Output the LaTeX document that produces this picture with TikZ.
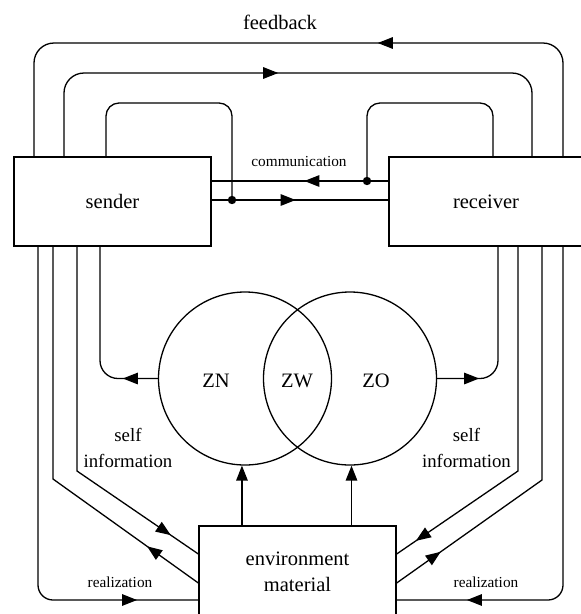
\documentclass[tikz,border=0pt]{standalone}
\usepackage{fontspec}
\setmainfont{Liberation Serif}
\newfontfamily\tnr{Liberation Serif}
\usetikzlibrary{arrows.meta,decorations.markings,calc}
\tikzset{
  big/.style={font=\tnr\fontsize{20.5}{26}\selectfont},
  mid/.style={font=\tnr\fontsize{18.8}{26}\selectfont},
  small/.style={font=\tnr\fontsize{15.3}{19}\selectfont},
  box/.style={draw, rectangle, inner sep=0pt, big},
  zone/.style={draw, circle, minimum size=173pt, inner sep=0pt},
  marr/.style={postaction={decorate,decoration={markings,mark=at position #1 with {\arrow{Triangle[length=15pt,width=11.5pt]}}}}},
  tip/.style={-{Triangle[length=15pt,width=11.5pt]}}
}
\begin{document}
\begin{tikzpicture}[x=1pt,y=-1pt,line width=1.3pt]
\useasboundingbox (0,0) rectangle (581,614);
% nodes
\node[box, minimum width=197pt, minimum height=89pt] (sender) at (112.5,201.5) {sender};
\node[box, minimum width=194pt, minimum height=89pt] (receiver) at (486,201.5) {receiver};
\node[box, minimum width=197pt, minimum height=91pt, align=center] (env) at (297.5,571.5) {environment\\material};
\node[zone] (ZN) at (245,378.5) {};
\node[zone] (ZO) at (350,378.5) {};
\node[big] (lzn) at (216,381) {ZN};
\node[big] (lzw) at (297,381) {ZW};
\node[big] (lzo) at (376,381) {ZO};
% labels
\node[big] (fb) at (280,22) {feedback};
\node[small] (comm) at (299,162) {communication};
\node[mid, align=center] (selfl) at (128,448) {self\\information};
\node[mid, align=center] (selfr) at (466.5,448) {self\\information};
\node[small] (reall) at (120,582) {realization};
\node[small] (realr) at (486,582) {realization};
% attachment coordinates
\coordinate (s1) at (sender.east |- 0,181);
\coordinate (s2) at (sender.east |- 0,200);
\coordinate (r1) at (receiver.west |- 0,181);
\coordinate (r2) at (receiver.west |- 0,200);
\coordinate (d1) at (s2 -| 232,0);
\coordinate (d2) at (r1 -| 367,0);
% feedback loops
\draw[rounded corners=20, marr=290pt] (receiver.north -| 563,0) -- (563,43) -- (34,43) -- (sender.north -| 34,0);
\draw[rounded corners=20, marr=289pt] (sender.north -| 64,0) -- (64,73) -- (532,73) -- (receiver.north -| 532,0);
\draw[rounded corners=13] (sender.north -| 106,0) -- (106,103) -- (232,103) -- (d1);
\draw[rounded corners=13] (receiver.north -| 493,0) -- (493,103) -- (367,103) -- (d2);
% communication
\draw[marr=84pt] (r1) -- (s1);
\draw[marr=84pt] (s2) -- (r2);
\fill (d1) circle (4.2);
\fill (d2) circle (4.2);
% zones back to sender / receiver
\draw[rounded corners=18, marr=35pt] (ZN.west) -- (ZN.west -| 100,0) -- (sender.south -| 100,0);
\draw[rounded corners=18, marr=42pt] (ZO.east) -- (ZO.east -| 498,0) -- (receiver.south -| 498,0);
% environment to zones
\draw[tip] (env.north -| ZN.268) -- (ZN.268);
\draw[tip] (env.north -| ZO.271) -- (ZO.271);
% realization
\draw[rounded corners=15, marr=446pt] (sender.south -| 38,0) -- (38,600) -- (env.west |- 0,600);
\draw[rounded corners=15, marr=443pt] (receiver.south -| 563,0) -- (563,600) -- (env.east |- 0,600);
% self information
\draw[marr=338pt] (sender.south -| 77,0) -- (77,471) -- (env.west |- 0,554);
\draw[marr=63pt] (env.west |- 0,583) -- (53,479) -- (sender.south -| 53,0);
\draw[marr=348pt] (receiver.south -| 518,0) -- (518,471) -- (env.east |- 0,554);
\draw[marr=54pt] (env.east |- 0,583) -- (542,480) -- (receiver.south -| 542,0);
\end{tikzpicture}
\end{document}
